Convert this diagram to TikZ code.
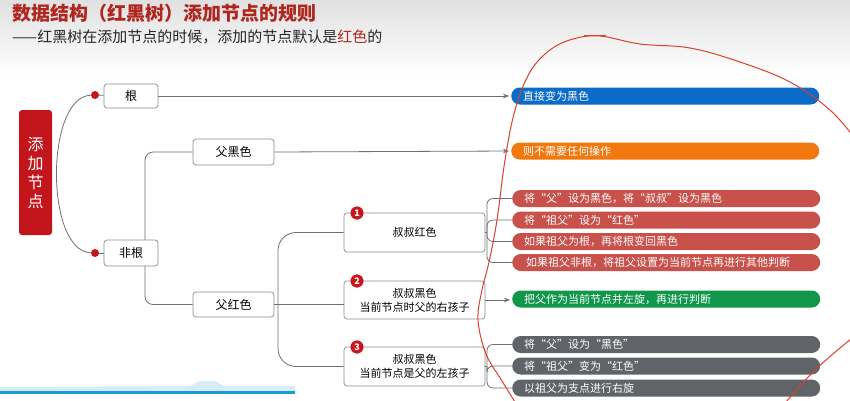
\documentclass[tikz,border=0pt]{standalone}
\usepackage{fontspec}
\setmainfont{Noto Sans CJK SC}
\usepackage{tikz}
\usetikzlibrary{arrows.meta}

\definecolor{titlered}{HTML}{B0261F}
\definecolor{rootred}{HTML}{C3161C}
\definecolor{badgered}{HTML}{C8161D}
\definecolor{pillblue}{HTML}{0A6BC9}
\definecolor{pillorange}{HTML}{F0780E}
\definecolor{pillred}{HTML}{C8514B}
\definecolor{pillgreen}{HTML}{10974A}
\definecolor{pillgray}{HTML}{606367}
\definecolor{linegray}{HTML}{6E6E6E}
\definecolor{boxgray}{HTML}{8A8A8A}
\definecolor{annotred}{HTML}{D9412E}
\definecolor{stripblue}{HTML}{1A9AD6}
\definecolor{paleblue}{HTML}{D6EDF8}

\begin{document}
\begin{tikzpicture}[x=1pt,y=-1pt,
    box/.style={draw=boxgray, line width=0.7pt, rounded corners=3pt, fill=white,
        align=center, font=\fontsize{12}{14}\selectfont},
    pill/.style={fill=#1, rounded corners=8.5pt, text=white, anchor=west,
        minimum height=17pt, text width=284pt, inner xsep=12pt, inner ysep=0pt,
        align=left, font=\fontsize{11}{13}\selectfont},
    badge/.style={circle, fill=badgered, draw=white, line width=0.6pt, text=white,
        inner sep=0pt, minimum size=14pt, font=\fontsize{9}{9}\selectfont\bfseries},
    conn/.style={draw=linegray, line width=0.8pt},
    arr/.style={conn, -{Stealth[length=6pt,width=4.5pt]}, shorten >=2pt}]
        \useasboundingbox (0,0) rectangle (850,400);
        % backdrop
        \shade[top color=black!12, bottom color=white] (0,0) rectangle (850,75);
        \fill[paleblue] (0,392) -- (0,387) -- (190,386) -- (200,381) -- (215,381) -- (225,386) -- (295,386) -- (295,392) -- cycle;
        \draw[stripblue, line width=3pt] (0,392.5) -- (295,392.5);

        % heading
        \node[anchor=west, inner sep=0pt, text=titlered,
            font=\fontsize{19}{22}\selectfont\bfseries] (title) at (12,13)
            {数据结构（红黑树）添加节点的规则};
        \node[anchor=west, inner sep=0pt, text=black!85,
            font=\fontsize{15}{18}\selectfont] (subtitle) at (12,37)
            {——红黑树在添加节点的时候，添加的节点默认是\textcolor{titlered}{红色}的};

        % root
        \node[fill=rootred, rounded corners=3pt, text=white, align=center,
            minimum width=33pt, minimum height=125pt, inner sep=0pt,
            font=\fontsize{16}{19}\selectfont] (add) at (35.5,172.5)
            {添\\加\\节\\点};
        \node[circle, fill=rootred, inner sep=0pt, minimum size=8pt] (d1) at (95,95) {};
        \node[circle, fill=rootred, inner sep=0pt, minimum size=8pt] (d2) at (95,253) {};
        \draw[conn] (d1) .. controls (45,97) and (45,251) .. (d2);

        % first level
        \node[box, minimum width=54pt, minimum height=24pt] (gen) at (131,96) {根};
        \node[box, minimum width=81pt, minimum height=26pt] (fuhei) at (233.5,152) {父黑色};
        \node[box, minimum width=81pt, minimum height=25pt] (fuhong) at (233.5,304.5) {父红色};
        \coordinate (b1) at (145,253);
        \draw[conn, rounded corners=8pt] (fuhei.west) -| (b1) |- (fuhong.west);
        \node[box, minimum width=54pt, minimum height=26pt] (feigen) at (131,253) {非根};
        \draw[conn] (d1) -- (gen);
        \draw[conn] (d2) -- (feigen);

        % uncle cases
        \node[box, minimum width=141pt, minimum height=39pt,
            font=\fontsize{11}{13}\selectfont] (shu1) at (414.5,232.5) {叔叔红色};
        \node[box, minimum width=141pt, minimum height=38pt,
            font=\fontsize{11}{14}\selectfont] (shu2) at (414.5,300)
            {叔叔黑色\\当前节点时父的右孩子};
        \node[box, minimum width=141pt, minimum height=39pt,
            font=\fontsize{11}{14}\selectfont] (shu3) at (414.5,366.5)
            {叔叔黑色\\当前节点是父的左孩子};
        \node[badge] (n1) at (357,213) {1};
        \node[badge] (n2) at (357,281) {2};
        \node[badge] (n3) at (357,347) {3};

        \coordinate (b2) at (278,304.5);
        \draw[conn] (fuhong.east) -- (shu2.west |- fuhong.east);
        \foreach \to in {shu1, shu3}
            \draw[conn, rounded corners=18pt] (b2) |- (\to.west);

        % results
        \node[pill=pillblue] (blue) at (511,96) {直接变为黑色};
        \node[pill=pillorange] (orange) at (511,151) {则不需要任何操作};
        \node[pill=pillred] (r1) at (512,198.5) {将“父”设为黑色，将“叔叔”设为黑色};
        \node[pill=pillred] (r2) at (512,220) {将“祖父”设为“红色”};
        \node[pill=pillred] (r3) at (512,241.5) {如果祖父为根，再将根变回黑色};
        \node[pill=pillred] (r4) at (512,262.5) {\,如果祖父非根，将祖父设置为当前节点再进行其他判断};
        \node[pill=pillgreen] (green) at (512,299) {把父作为当前节点并左旋，再进行判断};
        \node[pill=pillgray] (g1) at (512,344.5) {将“父”设为“黑色”};
        \node[pill=pillgray] (g2) at (512,366) {将“祖父”变为“红色”};
        \node[pill=pillgray] (g3) at (512,388) {以祖父为支点进行右旋};

        \draw[arr] (gen.east) -- (blue.west);
        \draw[arr] (fuhei.east) -- (orange.west);
        \draw[arr] (shu2.east) -- (green.west |- shu2.east);
        \coordinate (b3) at (487,232.5);
        \coordinate (b4) at (487,366.5);
        \draw[conn] (shu1.east) -- (b3);
        \draw[conn] (shu3.east) -- (b4);
        \foreach \to in {r1, r2, r3, r4}
            \draw[conn, rounded corners=6pt] (b3) |- (\to.west);
        \foreach \to in {g1, g2, g3}
            \draw[conn, rounded corners=6pt] (b4) |- (\to.west);

        % hand-drawn mark
        \begin{scope}
            \clip (0,0) rectangle (850,400);
            \draw[annotred, line width=1pt, line cap=round] plot[smooth, tension=0.6] coordinates {
                (515,402) (502,381) (486,354) (478,320) (482,290) (489,262)
                (497,220) (505,160) (515,110) (530,72) (550,50) (573,39)
                (600,36) (640,44) (690,48) (740,62) (790,82) (830,110) (856,140)};
            \draw[annotred, line width=1pt, line cap=round] plot[smooth, tension=0.6] coordinates {
                (852,338) (815,370) (786,402)};
            \draw[annotred, line width=0.8pt] (584,35) -- (606,35);
        \end{scope}
\end{tikzpicture}
\end{document}
